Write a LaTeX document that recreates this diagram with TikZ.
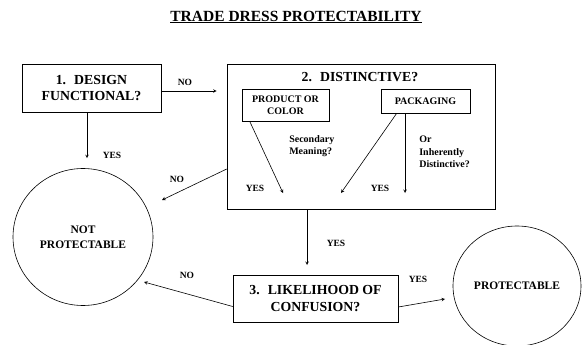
\documentclass[tikz,border=0pt]{standalone}
\usepackage{fontspec}
\setmainfont{Liberation Serif}
\usetikzlibrary{shapes}
\usepgflibrary{arrows}

\begin{document}
\begin{tikzpicture}[x=1pt, y=-1pt, >=stealth, line width=.6pt,
  box/.style={draw, inner sep=0pt, align=center, font=\fontsize{13.8}{16.5}\selectfont\bfseries},
  subbox/.style={draw, inner sep=0pt, align=center, font=\fontsize{10}{12}\selectfont\bfseries},
  verdict/.style={draw, ellipse, inner sep=0pt, align=center, font=\fontsize{11.5}{15}\selectfont\bfseries},
  tag/.style={inner sep=0pt, font=\fontsize{9.5}{11}\selectfont\bfseries},
  note/.style={inner sep=0pt, anchor=west, align=left, font=\fontsize{10}{12.5}\selectfont\bfseries}]

\useasboundingbox (0,0) rectangle (582,345);

\node[inner sep=0pt, font=\fontsize{15.5}{18}\selectfont\bfseries] (title) at (296,17) {\underline{TRADE DRESS PROTECTABILITY}};

\node[box, minimum width=139, minimum height=48] (q1) at (91.5,88) {1.~ DESIGN\\FUNCTIONAL?};
\node[box, minimum width=268, minimum height=145] (q2) at (361,136.5) {};
\node[box, inner sep=0pt, draw=none] (q2t) at (360,77) {2.~ DISTINCTIVE?};
\node[subbox, minimum width=87, minimum height=32] (product) at (285.5,105) {PRODUCT OR\\COLOR};
\node[subbox, minimum width=89, minimum height=24] (packaging) at (425.5,101) {PACKAGING};
\node[box, minimum width=165, minimum height=47] (q3) at (315.5,298.5) {3.~ LIKELIHOOD OF\\CONFUSION?};

\node[verdict, minimum width=140, minimum height=137] (notprot) at (83,237) {NOT\\PROTECTABLE};
\node[verdict, minimum width=128, minimum height=120] (prot) at (517,286) {PROTECTABLE};

% free ends of the arrows
\coordinate (a1) at (283,193);
\coordinate (a2) at (341,193);
\coordinate (a3) at (405,193);
\coordinate (c3) at (307,265);
\coordinate (n2) at (162,200);
\coordinate (n3) at (144,282);
\coordinate (y3) at (445,299);

\draw[->, shorten >=10pt] ([yshift=-3pt]q1.east) -- ([yshift=-3pt]q1.east -| q2.west);
\draw[->, shorten >=10pt] ([xshift=-4.5pt]q1.south) -- ([xshift=-4.5pt]q1.south |- notprot.north);
\draw[->] ([yshift=-32.5pt]q2.west) -- (n2);
\draw[->] (c3 |- q2.south) -- (c3);
\draw[->] ([yshift=-8pt]q3.west) -- (n3);
\draw[->] ([yshift=-8.5pt]q3.east) -- (y3);

\draw[->] ([xshift=8pt]product.south west) -- (a1);
\draw[->] ([xshift=16pt]packaging.south west) -- (a2);
\draw[->] (a3 |- packaging.south) -- (a3);

\node[note] (sec) at (289,146) {Secondary\\Meaning?};
\node[note] (inh) at (419,152) {Or\\Inherently\\Distinctive?};

\node[tag] (no1) at (185,82) {NO};
\node[tag] (yes1) at (112,155) {YES};
\node[tag] (no2) at (177,179) {NO};
\node[tag] (yes2) at (255,188) {YES};
\node[tag] (yes3) at (380,188) {YES};
\node[tag] (yes4) at (336,243) {YES};
\node[tag] (no3) at (187,275) {NO};
\node[tag] (yes5) at (418,279) {YES};
\end{tikzpicture}
\end{document}
